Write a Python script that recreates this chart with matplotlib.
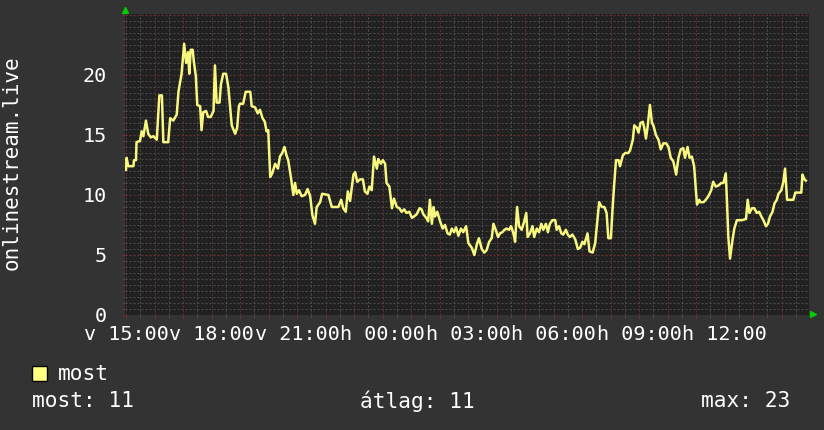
import matplotlib
matplotlib.use("Agg")
import matplotlib.pyplot as plt
from matplotlib.patches import Rectangle
from matplotlib.ticker import MultipleLocator, FuncFormatter

# hours since 15:00 (Sunday) and online listener counts
hours = [
    0.00, 0.02, 0.08, 0.26, 0.28, 0.35, 0.37, 0.49, 0.55, 0.61, 0.70, 0.78, 0.87, 0.96,
    1.08, 1.17, 1.26, 1.31, 1.48, 1.55, 1.66, 1.78, 1.84, 1.95, 2.04, 2.11, 2.18, 2.22,
    2.27, 2.34, 2.38, 2.45, 2.50, 2.60, 2.65, 2.71, 2.81, 2.88, 2.97, 3.07, 3.12, 3.18,
    3.28, 3.33, 3.41, 3.51, 3.59, 3.71, 3.83, 3.90, 3.96, 4.00, 4.11, 4.20, 4.36, 4.41,
    4.53, 4.62, 4.70, 4.79, 4.87, 4.93, 4.99, 5.06, 5.13, 5.23, 5.33, 5.40, 5.48, 5.56,
    5.63, 5.69, 5.79, 5.87, 5.93, 5.99, 6.07, 6.16, 6.28, 6.37, 6.46, 6.54, 6.63, 6.69,
    6.81, 6.88, 7.10, 7.22, 7.45, 7.55, 7.62, 7.71, 7.78, 7.86, 7.98, 8.04, 8.11, 8.21,
    8.31, 8.38, 8.47, 8.54, 8.62, 8.70, 8.80, 8.85, 8.94, 9.01, 9.09, 9.14, 9.24, 9.33,
    9.40, 9.50, 9.59, 9.67, 9.76, 9.84, 9.94, 10.03, 10.10, 10.20, 10.30, 10.37, 10.43,
    10.53, 10.60, 10.66, 10.73, 10.79, 10.84, 10.92, 11.02, 11.11, 11.19, 11.28, 11.36,
    11.43, 11.51, 11.58, 11.66, 11.75, 11.83, 11.93, 12.01, 12.13, 12.22, 12.31, 12.38,
    12.48, 12.57, 12.65, 12.74, 12.83, 12.89, 12.97, 13.05, 13.12, 13.20, 13.28, 13.35,
    13.44, 13.51, 13.59, 13.65, 13.72, 13.79, 13.88, 13.97, 14.04, 14.09, 14.17, 14.26,
    14.32, 14.41, 14.49, 14.57, 14.64, 14.73, 14.80, 14.87, 14.96, 15.06, 15.11, 15.19,
    15.27, 15.34, 15.43, 15.50, 15.57, 15.66, 15.76, 15.85, 15.93, 16.01, 16.08, 16.19,
    16.26, 16.37, 16.46, 16.52, 16.60, 16.69, 16.78, 16.86, 16.92, 17.01, 17.06, 17.12,
    17.19, 17.28, 17.33, 17.43, 17.51, 17.62, 17.68, 17.78, 17.83, 17.92, 17.98, 18.05,
    18.13, 18.18, 18.24, 18.30, 18.38, 18.45, 18.50, 18.59, 18.68, 18.76, 18.85, 18.95,
    19.03, 19.11, 19.20, 19.30, 19.38, 19.46, 19.55, 19.61, 19.70, 19.77, 19.85, 19.93,
    20.03, 20.11, 20.14, 20.26, 20.34, 20.43, 20.53, 20.60, 20.69, 20.79, 20.88, 20.96,
    21.04, 21.08, 21.13, 21.19, 21.28, 21.34, 21.43, 21.60, 21.75, 21.81, 21.87, 21.96,
    22.04, 22.13, 22.21, 22.29, 22.36, 22.45, 22.52, 22.59, 22.68, 22.75, 22.83, 22.89,
    22.99, 23.06, 23.12, 23.19, 23.41, 23.48, 23.69, 23.73, 23.80, 23.85,
]
listeners = [
    12.1, 13.1, 12.4, 12.4, 12.9, 12.9, 14.4, 14.5, 15.3, 14.9, 16.2, 15.1, 14.8, 14.9,
    14.6, 18.3, 18.3, 14.4, 14.4, 16.4, 16.2, 16.7, 18.6, 20.1, 22.6, 21.0, 21.9, 20.1,
    22.1, 22.1, 21.1, 19.9, 17.5, 17.4, 15.4, 16.9, 17.0, 16.5, 16.5, 17.0, 20.8, 17.7,
    17.7, 19.2, 20.1, 20.1, 19.0, 15.8, 15.1, 15.6, 17.4, 17.6, 17.6, 18.6, 18.6, 17.4,
    17.3, 16.8, 17.1, 16.4, 16.1, 15.3, 15.4, 11.5, 11.8, 12.6, 12.2, 13.2, 13.5, 14.0,
    13.3, 12.9, 11.4, 10.0, 11.0, 10.1, 10.4, 9.9, 10.0, 10.5, 9.9, 8.3, 7.6, 9.0,
    9.4, 10.1, 10.0, 9.0, 9.0, 9.6, 8.9, 8.6, 10.3, 9.5, 11.7, 11.9, 11.1, 11.3,
    11.3, 10.3, 10.1, 10.7, 10.4, 13.2, 12.2, 13.0, 12.6, 12.9, 12.6, 11.0, 10.7, 8.9,
    9.7, 9.0, 8.9, 8.6, 8.8, 8.5, 8.6, 8.1, 8.2, 8.4, 8.9, 8.8, 8.4,
    8.1, 7.8, 9.6, 7.6, 9.0, 8.2, 8.6, 7.8, 7.2, 7.5, 6.8, 6.7,
    7.2, 6.9, 7.3, 6.6, 7.2, 6.9, 7.4, 6.0, 5.6, 5.0, 5.9, 6.4,
    5.5, 5.2, 5.4, 6.1, 6.4, 7.6, 7.1, 6.5, 6.8, 6.9, 7.1, 7.2,
    7.1, 7.4, 6.8, 6.1, 9.0, 7.4, 7.1, 7.8, 8.5, 6.5, 6.8, 7.4,
    6.5, 7.2, 6.9, 7.6, 7.1, 7.6, 6.9, 7.6, 7.9, 7.9, 7.1, 7.4,
    6.8, 6.7, 7.1, 6.7, 6.5, 6.7, 6.3, 5.5, 5.6, 6.1, 5.9, 6.8,
    5.3, 5.2, 6.0, 7.5, 9.4, 9.0, 9.0, 8.5, 6.4, 6.4, 8.5, 10.7,
    12.9, 12.9, 12.4, 13.3, 13.5, 13.5, 13.7, 14.6, 15.8, 15.6, 15.2, 16.0,
    16.1, 15.6, 14.7, 15.7, 17.5, 16.0, 15.8, 15.0, 14.6, 13.8, 14.3, 14.3,
    14.0, 13.1, 12.8, 11.7, 13.1, 13.8, 13.9, 13.1, 14.0, 13.1, 13.2, 12.4,
    9.2, 9.6, 9.4, 9.4, 9.6, 9.9, 10.4, 11.1, 10.7, 10.8, 11.0, 11.0,
    11.8, 9.6, 6.5, 4.7, 6.3, 7.2, 7.9, 7.9, 8.0, 9.6, 8.5, 8.9,
    8.9, 8.5, 8.6, 8.2, 7.9, 7.4, 7.6, 8.2, 8.6, 9.3, 9.6, 10.1,
    10.4, 11.1, 12.2, 9.6, 9.6, 10.2, 10.2, 11.7, 11.3, 11.2,
]
tick_labels = ["v 15:00", "v 18:00", "v 21:00", "h 00:00",
               "h 03:00", "h 06:00", "h 09:00", "h 12:00"]
stat_now, stat_avg, stat_max = 11, 11, 23

mono = "DejaVu Sans Mono"
W, H = 824, 430
fig = plt.figure(figsize=(W / 100, H / 100), dpi=100, facecolor="#333333")
ax = fig.add_axes([125 / W, 1 - 315 / H, 684 / W, 301 / H], facecolor="#212121")

ax.plot(hours, listeners, color="#f8f880", lw=1.8, zorder=3)

ax.set_xlim(-0.035, 23.96)
ax.set_ylim(0, 25.08)

ax.xaxis.set_major_locator(MultipleLocator(1))
ax.xaxis.set_minor_locator(MultipleLocator(0.5))
ax.yaxis.set_major_locator(MultipleLocator(5))
ax.yaxis.set_minor_locator(MultipleLocator(0.5))


def hour_label(x, pos):
    i = int(round(x))
    if i % 3 == 0 and 0 <= i // 3 < len(tick_labels):
        return tick_labels[i // 3]
    return ""


ax.xaxis.set_major_formatter(FuncFormatter(hour_label))
ax.yaxis.set_major_formatter(FuncFormatter(lambda v, p: f"{v:.0f}" if v <= 20 else ""))

ax.grid(which="minor", color="#4c4c4c", lw=0.72, linestyle=(0, (2, 2)), zorder=1)
ax.grid(which="major", color="#663232", lw=0.72, linestyle=(0, (2, 2)), zorder=2)
ax.set_axisbelow(True)

ax.tick_params(axis="x", which="major", colors="#663232", length=3, pad=4,
               labelcolor="white", labelsize=14.5)
ax.tick_params(axis="x", which="minor", colors="#4c4c4c", length=2)
ax.tick_params(axis="y", which="major", colors="#663232", length=2, pad=11,
               labelcolor="white", labelsize=14.5)
ax.tick_params(axis="y", which="minor", colors="#4c4c4c", length=2)
for lbl in ax.get_xticklabels() + ax.get_yticklabels():
    lbl.set_family(mono)
for s in ax.spines.values():
    s.set_visible(False)

# green axis arrows
ax.plot([0.0], [1.012], marker="^", color="#00cc00", ms=5, transform=ax.transAxes,
        clip_on=False)
ax.plot([1.006], [0.002], marker=">", color="#00cc00", ms=5, transform=ax.transAxes,
        clip_on=False)

fig.text(12 / W, 1 - 163 / H, "onlinestream.live", rotation=90, color="white",
         family=mono, fontsize=15, ha="center", va="center")

# legend
fig.patches.append(Rectangle((32 / W, 1 - 381 / H), 15 / W, 15 / H,
                             transform=fig.transFigure, facecolor="#ffff80",
                             edgecolor="black", lw=1))
fig.text(58 / W, 1 - 374 / H, "most", color="white", family=mono, fontsize=15.2,
         va="center")
fig.text(32 / W, 1 - 401 / H, f"most: {stat_now}", color="white", family=mono,
         fontsize=15.2, va="center")
fig.text(360 / W, 1 - 401 / H, f"átlag: {stat_avg}", color="white", family=mono,
         fontsize=15.2, va="center")
fig.text(701 / W, 1 - 401 / H, f"max: {stat_max}", color="white", family=mono,
         fontsize=15.2, va="center")

fig.savefig("out.png", dpi=100, facecolor=fig.get_facecolor())
